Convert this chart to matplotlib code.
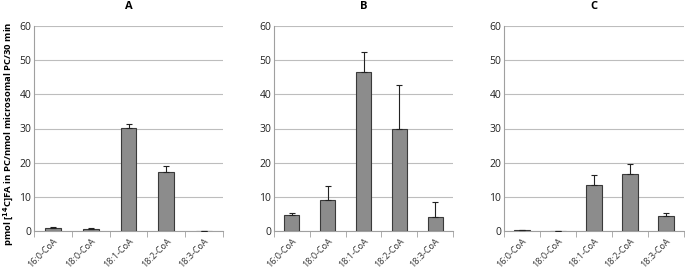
import matplotlib.pyplot as plt
import numpy as np

plt.rcParams['font.family'] = ['Open Sans', 'DejaVu Sans']

categories = ["16:0-CoA", "18:0-CoA", "18:1-CoA", "18:2-CoA", "18:3-CoA"]
panels = ["A", "B", "C"]
values_a = [1.0, 0.5, 30.2, 17.2, 0.0]
err_a = [0.3, 0.5, 1.0, 1.8, 0.0]
values_b = [4.7, 9.2, 46.5, 29.8, 4.2]
err_b = [0.5, 4.0, 5.8, 13.0, 4.4]
values_c = [0.3, 0.0, 13.4, 16.7, 4.5]
err_c = [0.1, 0.0, 3.1, 2.9, 0.9]

fig = plt.figure(figsize=(6.85, 2.72), dpi=100)
W, H = 685, 272
boxes = [(34, 223), (274, 453), (504, 684)]
top, bottom = 26, 231

x = np.arange(len(categories))
for (l, r), name, vals, errs in zip(boxes, panels,
                                     [values_a, values_b, values_c],
                                     [err_a, err_b, err_c]):
    ax = fig.add_axes([l / W, 1 - bottom / H, (r - l) / W, (bottom - top) / H])
    ax.bar(x, vals, width=0.42, color="#8c8c8c", edgecolor="#3a3a3a",
           linewidth=0.8, zorder=3)
    ax.errorbar(x, vals, yerr=[np.zeros(len(errs)), errs], fmt="none",
                ecolor="#222222", elinewidth=0.8, capsize=2.5, capthick=0.8,
                zorder=4)
    ax.set_xlim(-0.5, len(categories) - 0.5)
    ax.set_ylim(0, 60)
    ax.set_yticks(range(0, 61, 10))
    ax.yaxis.grid(True, color="#bdbdbd", linewidth=0.8, zorder=0)
    for s in ["top", "right"]:
        ax.spines[s].set_visible(False)
    ax.spines["left"].set_color("#a0a0a0")
    ax.spines["bottom"].set_color("#a0a0a0")
    ax.tick_params(axis="y", length=0, labelsize=7.5, colors="#222222", pad=2)
    ax.set_xticks(x)
    ax.set_xticklabels(categories, rotation=45, ha="right",
                       rotation_mode="anchor", fontsize=6.5, color="#333333")
    ax.tick_params(axis="x", length=0, pad=4)
    ax.set_xticks(np.arange(-0.5, len(categories)), minor=True)
    ax.tick_params(axis="x", which="minor", length=4, color="#a0a0a0",
                   direction="out")
    ax.set_title(name, fontsize=8, fontweight="bold", pad=12)

fig.text(1 / W, 1 - 134 / H,
         "pmol [$\\mathbf{^{14}}$C]FA in PC/nmol microsomal PC/30 min",
         rotation=90, ha="left", va="center", fontsize=6.8, fontweight="bold")

fig.savefig("out.png", dpi=100)
